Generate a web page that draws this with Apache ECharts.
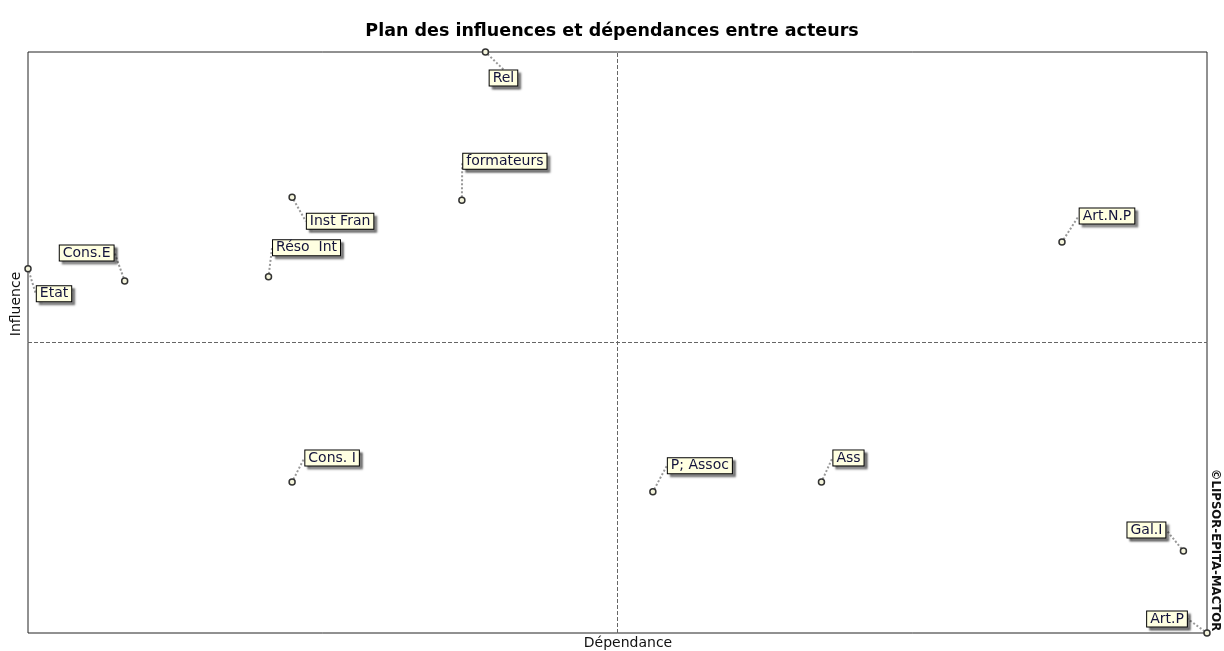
<!DOCTYPE html>
<html lang="fr">
<head>
    <meta charset="UTF-8">
    <script src="https://cdn.jsdelivr.net/npm/echarts@6/dist/echarts.min.js"></script>
    <title>Plan des influences et dépendances entre acteurs</title>
    <style>
        html, body { margin: 0; padding: 0; background: #fff; }
    </style>
</head>
<body>
<div id="mainChart" style="width: 1224px; height: 651px"></div>
<script>

    // actors and their position on the plane (dependance = x, influence = y)
    var actors = ['Rel', 'formateurs', 'Inst Fran', 'Réso  Int', 'Cons.E', 'Etat',
        'Art.N.P', 'Cons. I', 'P; Assoc', 'Ass', 'Gal.I', 'Art.P'];
    var dependance = [38.8, 36.8, 22.4, 20.4, 8.2, 0, 87.7, 22.4, 53.0, 67.3, 98.0, 100];
    var influence = [100, 74.5, 75.0, 61.3, 60.6, 62.7, 67.3, 26.0, 24.3, 26.0, 14.1, 0];
    var axisMin = 0, axisMax = 100;
    var midDependance = 50, midInfluence = 50;

    // where each label box sits relative to its point (pixels)
    var labelShift = [[18, 26], [43, -39], [48, 24], [38, -29], [-38, -28], [26, 25],
        [45, -26], [40, -24], [47, -26], [27, -24], [-37, -21], [-40, -14]];

    var MainChart = echarts.init(document.getElementById('mainChart'));

    var points = [];
    for (var i in actors) {
        points.push({name: actors[i], value: [dependance[i], influence[i]]});
    }

    var option = {
        animation: false,
        title: {
            text: 'Plan des influences et dépendances entre acteurs',
            left: 'center',
            top: 17,
            textStyle: {
                fontFamily: 'DejaVu Sans',
                fontSize: 17.5,
                fontWeight: 'bold',
                color: '#000'
            }
        },
        grid: {
            left: 28,
            right: 17,
            top: 52,
            bottom: 18,
            show: true,
            borderColor: '#222',
            borderWidth: 1
        },
        xAxis: {
            type: 'value',
            min: axisMin,
            max: axisMax,
            axisLine: {show: false},
            axisTick: {show: false},
            axisLabel: {show: false},
            splitLine: {show: false}
        },
        yAxis: {
            type: 'value',
            min: axisMin,
            max: axisMax,
            axisLine: {show: false},
            axisTick: {show: false},
            axisLabel: {show: false},
            splitLine: {show: false}
        },
        graphic: [
            {
                type: 'text',
                x: 628,
                y: 643,
                style: {
                    text: 'Dépendance',
                    font: '14px "DejaVu Sans"',
                    fill: '#111',
                    align: 'center',
                    verticalAlign: 'middle'
                }
            },
            {
                type: 'text',
                x: 16,
                y: 304,
                rotation: Math.PI / 2,
                style: {
                    text: 'Influence',
                    font: '14px "DejaVu Sans"',
                    fill: '#111',
                    align: 'center',
                    verticalAlign: 'middle'
                }
            },
            {
                type: 'text',
                x: 1215,
                y: 550,
                rotation: -Math.PI / 2,
                style: {
                    text: '©LIPSOR-EPITA-MACTOR',
                    font: 'bold 13px "DejaVu Sans Condensed", "DejaVu Sans"',
                    fill: '#111',
                    align: 'center',
                    verticalAlign: 'middle'
                }
            }
        ],
        series: [{
            type: 'scatter',
            data: points,
            clip: false,
            symbol: 'circle',
            symbolSize: 6,
            itemStyle: {
                color: '#f4f4dc',
                borderColor: '#333',
                borderWidth: 1.5,
                opacity: 1
            },
            label: {
                show: true,
                position: 'inside',
                formatter: '{b}',
                fontFamily: 'DejaVu Sans',
                fontSize: 14,
                color: '#14143c',
                opacity: 1,
                backgroundColor: '#ffffe1',
                borderColor: '#000',
                borderWidth: 1,
                padding: [1, 3, 0, 3],
                shadowColor: 'rgba(0,0,0,0.45)',
                shadowBlur: 2,
                shadowOffsetX: 3,
                shadowOffsetY: 3
            },
            labelLine: {
                show: true,
                lineStyle: {
                    color: '#999',
                    width: 2,
                    type: 'dotted',
                    opacity: 1
                }
            },
            labelLayout: function (params) {
                var s = labelShift[params.dataIndex];
                return {dx: s[0], dy: s[1]};
            },
            markLine: {
                silent: true,
                symbol: 'none',
                label: {show: false},
                lineStyle: {
                    color: '#666',
                    type: 'dashed',
                    width: 1
                },
                data: [
                    {xAxis: midDependance},
                    {yAxis: midInfluence}
                ]
            }
        }]
    };

    MainChart.setOption(option);

</script>
</body>
</html>
